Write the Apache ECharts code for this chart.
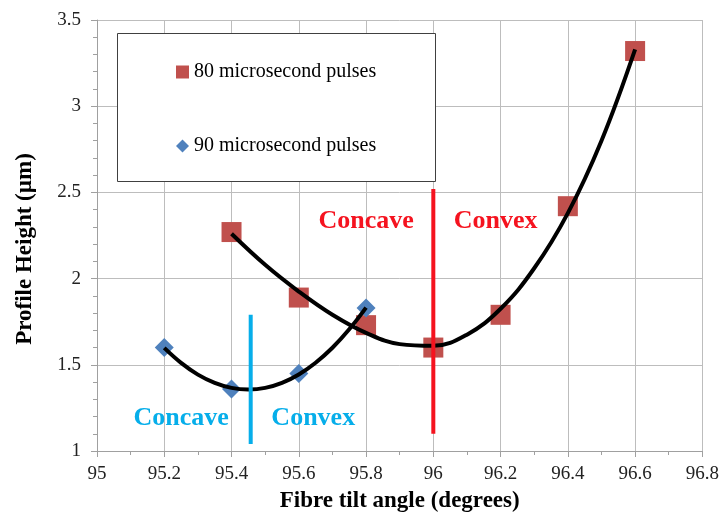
<!DOCTYPE html>
<html>
<head>
<meta charset="utf-8">
<script src="https://cdn.jsdelivr.net/npm/echarts@6/dist/echarts.min.js"></script>
<style>
html,body{margin:0;padding:0;background:#fff;}
#c{width:722px;height:518px;}
</style>
</head>
<body>
<div id="c"></div>
<script>
// ---- data ----
const xTicks = [95, 95.2, 95.4, 95.6, 95.8, 96, 96.2, 96.4, 96.6, 96.8];
const yTicks = [1, 1.5, 2, 2.5, 3, 3.5];

const name80 = '80 microsecond pulses';
const name90 = '90 microsecond pulses';

const x80 = [95.4, 95.6, 95.8, 96.0, 96.2, 96.4, 96.6];
const y80 = [2.27, 1.89, 1.73, 1.60, 1.79, 2.42, 3.32];

const x90 = [95.2, 95.4, 95.6, 95.8];
const y90 = [1.60, 1.36, 1.45, 1.83];

// trend curves
const trend80X = [95.4, 95.5, 95.6, 95.7, 95.8, 95.9, 96.0, 96.1, 96.2, 96.3, 96.4, 96.5, 96.6];
const trend80Y = [2.26, 2.08, 1.925, 1.79, 1.685, 1.62, 1.61, 1.675, 1.825, 2.06, 2.38, 2.80, 3.33];

const trend90X = [95.2, 95.25, 95.3, 95.35, 95.4, 95.45, 95.5, 95.55, 95.6, 95.65, 95.7, 95.75, 95.8];
const trend90Y = [1.598, 1.511, 1.443, 1.395, 1.366, 1.357, 1.366, 1.395, 1.444, 1.512, 1.599, 1.706, 1.832];

// dividing lines (data coordinates)
const redDividerX = [96, 96];
const redDividerY = [1.10, 2.52];
const blueDividerX = [95.457, 95.457];
const blueDividerY = [1.04, 1.79];

// annotation texts (data coordinates)
const redNoteText = ['Concave', 'Convex'];
const redNoteX = [95.80, 96.185];
const redNoteY = [2.335, 2.335];
const blueNoteText = ['Concave', 'Convex'];
const blueNoteX = [95.25, 95.643];
const blueNoteY = [1.19, 1.19];

// ---- build ----
const zip = (xs, ys) => xs.map((x, i) => [x, ys[i]]);
const notes = (t, xs, ys) => t.map((s, i) => ({ name: s, value: [xs[i], ys[i]] }));

const FONT = '"Liberation Serif", "Times New Roman", serif';
const RED = '#c0504d';
const BLUE = '#4f81bd';
const NOTE_RED = '#f5131f';
const NOTE_BLUE = '#06aeea';

const chart = echarts.init(document.getElementById('c'), null, { renderer: 'canvas' });

chart.setOption({
  animation: false,
  backgroundColor: '#ffffff',
  grid: { left: 97, right: 19, top: 20, bottom: 65, containLabel: false },
  xAxis: {
    type: 'value',
    min: xTicks[0],
    max: xTicks[xTicks.length - 1],
    interval: 0.2,
    name: 'Fibre tilt angle (degrees)',
    nameLocation: 'middle',
    nameGap: 39,
    nameTextStyle: { fontFamily: FONT, fontWeight: 'bold', fontSize: 23, color: '#000' },
    axisLine: { show: true, onZero: false, lineStyle: { color: '#a0a0a0', width: 1 } },
    axisTick: { show: true, inside: false, length: 6, lineStyle: { color: '#a0a0a0' } },
    minorTick: { show: true, splitNumber: 2, length: 4, lineStyle: { color: '#a0a0a0' } },
    splitLine: { show: true, lineStyle: { color: '#bdbdbd', width: 1 } },
    axisLabel: { fontFamily: FONT, fontSize: 19, color: '#222', margin: 14 }
  },
  yAxis: {
    type: 'value',
    min: yTicks[0],
    max: yTicks[yTicks.length - 1],
    interval: 0.5,
    name: 'Profile Height (\u00b5m)',
    nameLocation: 'middle',
    nameGap: 60,
    nameTextStyle: { fontFamily: FONT, fontWeight: 'bold', fontSize: 23, color: '#000', padding: [0, 27, 0, 0] },
    axisLine: { show: true, onZero: false, lineStyle: { color: '#a0a0a0', width: 1 } },
    axisTick: { show: true, inside: false, length: 6, lineStyle: { color: '#a0a0a0' } },
    minorTick: { show: true, splitNumber: 5, length: 4, lineStyle: { color: '#a0a0a0' } },
    splitLine: { show: true, lineStyle: { color: '#bdbdbd', width: 1 } },
    axisLabel: { fontFamily: FONT, fontSize: 19, color: '#222', margin: 16 }
  },
  graphic: [{
    type: 'rect',
    z: 3,
    shape: { x: 117.5, y: 33.5, width: 318, height: 148 },
    style: { fill: '#ffffff', stroke: '#404040', lineWidth: 1 }
  }],
  legend: {
    z: 5,
    orient: 'vertical',
    left: 171,
    top: 57,
    itemGap: 54,
    itemWidth: 13,
    itemHeight: 13,
    selectedMode: false,
    textStyle: { fontFamily: FONT, fontSize: 20, color: '#000' },
    data: [
      { name: name80, icon: 'rect', itemStyle: { opacity: 1 } },
      { name: name90, icon: 'diamond', itemStyle: { opacity: 1 } }
    ]
  },
  series: [
    {
      name: name80,
      type: 'scatter',
      symbol: 'rect',
      symbolSize: 20,
      z: 2,
      itemStyle: { color: RED, opacity: 1 },
      data: zip(x80, y80)
    },
    {
      name: name90,
      type: 'scatter',
      symbol: 'diamond',
      symbolSize: [19, 19],
      z: 2,
      itemStyle: { color: BLUE, opacity: 1 },
      data: zip(x90, y90)
    },
    {
      name: 'trend80',
      type: 'line',
      smooth: 0.4,
      showSymbol: false,
      silent: true,
      z: 3,
      lineStyle: { color: '#000', width: 4 },
      data: zip(trend80X, trend80Y)
    },
    {
      name: 'trend90',
      type: 'line',
      smooth: 0.4,
      showSymbol: false,
      silent: true,
      z: 3,
      lineStyle: { color: '#000', width: 4 },
      data: zip(trend90X, trend90Y)
    },
    {
      name: 'redDivider',
      type: 'line',
      showSymbol: false,
      silent: true,
      z: 4,
      lineStyle: { color: NOTE_RED, width: 4 },
      data: zip(redDividerX, redDividerY)
    },
    {
      name: 'blueDivider',
      type: 'line',
      showSymbol: false,
      silent: true,
      z: 4,
      lineStyle: { color: NOTE_BLUE, width: 4 },
      data: zip(blueDividerX, blueDividerY)
    },
    {
      name: 'redNotes',
      type: 'scatter',
      symbolSize: 0,
      silent: true,
      z: 4,
      itemStyle: { opacity: 1 },
      label: {
        show: true, position: 'inside', formatter: '{b}', opacity: 1,
        fontFamily: FONT, fontWeight: 'bold', fontSize: 26, color: NOTE_RED
      },
      data: notes(redNoteText, redNoteX, redNoteY)
    },
    {
      name: 'blueNotes',
      type: 'scatter',
      symbolSize: 0,
      silent: true,
      z: 4,
      itemStyle: { opacity: 1 },
      label: {
        show: true, position: 'inside', formatter: '{b}', opacity: 1,
        fontFamily: FONT, fontWeight: 'bold', fontSize: 26, color: NOTE_BLUE
      },
      data: notes(blueNoteText, blueNoteX, blueNoteY)
    }
  ]
});
</script>
</body>
</html>
